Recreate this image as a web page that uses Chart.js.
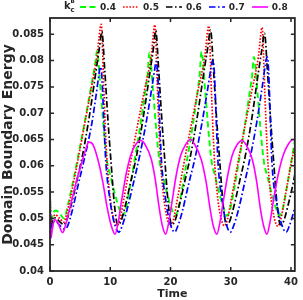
<!DOCTYPE html>
<html>
<head>
<meta charset="utf-8">
<title>Domain Boundary Energy</title>
<script src="https://cdn.jsdelivr.net/npm/chart.js@4.4.1/dist/chart.umd.min.js"></script>
<style>
  html, body { margin: 0; padding: 0; background: #fff; }
  #wrap { position: relative; width: 303px; height: 300px; font-family: "DejaVu Sans", sans-serif; font-weight: bold; color: #262626; }
  #kc { position: absolute; left: 64px; top: 0; width: 14px; height: 14px; }
  #kc span { position: absolute; line-height: 1; }
  #kc .k { left: 0; top: 1px; font-size: 10px; }
  #kc .sup { left: 6.5px; top: -0.6px; font-size: 5.5px; }
  #kc .sub { left: 6.5px; top: 7px; font-size: 7px; }
  #legend { position: absolute; left: 80px; top: 0; height: 13px; display: flex; align-items: center; font-size: 9px; }
  .item { display: flex; align-items: center; margin-right: 7px; }
  .item svg { margin-right: 4px; }
</style>
</head>
<body>
<div id="wrap">
  <canvas id="chart" width="303" height="300"></canvas>
  <div id="kc"><span class="k">k</span><span class="sup">B</span><span class="sub">c</span></div>
  <div id="legend"></div>
</div>
<script>
// k_c^B values (legend)
const kcLabels = ['0.4', '0.5', '0.6', '0.7', '0.8'];

const xTickValues = [0, 10, 20, 30, 40];
const yTickValues = [0.04, 0.045, 0.05, 0.055, 0.06, 0.065, 0.07, 0.075, 0.08, 0.085];
const yTickLabels = ['0.04', '0.045', '0.05', '0.055', '0.06', '0.065', '0.07', '0.075', '0.08', '0.085'];

// k_c^B = 0.4
const timeK04 = [0, 0.12, 0.45, 1.0, 1.7, 2.3,
  3.0, 4.0, 5.0, 6.0, 7.0, 7.5, 7.8,
  8.4, 9.0, 9.45, 10.1, 10.8, 11.5, 12.0,
  12.5, 13.2, 14.1, 14.9, 15.6, 16.2, 16.5,
  17.1, 17.7, 18.15, 18.8, 19.5, 20.2, 20.7,
  21.2, 21.9, 22.8, 23.6, 24.3, 24.85, 25.15,
  25.75, 26.35, 26.8, 27.45, 28.15, 28.85, 29.35,
  29.85, 30.55, 31.45, 32.25, 32.95, 33.55, 33.85,
  34.45, 35.05, 35.5, 36.15, 36.85, 37.55, 38.05,
  38.55, 39.25, 40.15, 40.7];
const energyK04 = [0.0558, 0.0490, 0.0508, 0.0515, 0.0508, 0.0500,
  0.0527, 0.0580, 0.0638, 0.0698, 0.0762, 0.0795, 0.0818,
  0.0743, 0.0660, 0.0610, 0.0578, 0.0545, 0.0518, 0.0505,
  0.0515, 0.0555, 0.0615, 0.0670, 0.0725, 0.0775, 0.0815,
  0.0743, 0.0660, 0.0610, 0.0578, 0.0545, 0.0518, 0.0505,
  0.0515, 0.0555, 0.0615, 0.0670, 0.0725, 0.0775, 0.0817,
  0.0743, 0.0660, 0.0610, 0.0578, 0.0545, 0.0518, 0.0505,
  0.0515, 0.0555, 0.0615, 0.0670, 0.0725, 0.0772, 0.0807,
  0.0737, 0.0655, 0.0608, 0.0577, 0.0545, 0.0518, 0.0505,
  0.0515, 0.0555, 0.0615, 0.0652];

// k_c^B = 0.5
const timeK05 = [0, 0.12, 0.45, 0.9, 1.6, 2.3,
  2.8, 3.5, 4.5, 5.6, 6.7, 7.8, 8.5,
  8.95, 9.4, 9.9, 10.45, 11.1,
  11.6, 12.3, 13.3, 14.5, 15.7, 16.8, 17.4,
  17.85, 18.3, 18.8, 19.35, 20.0,
  20.5, 21.2, 22.2, 23.4, 24.6, 25.7, 26.35,
  26.8, 27.25, 27.75, 28.3, 28.95,
  29.45, 30.15, 31.15, 32.35, 33.55, 34.6, 35.2,
  35.65, 36.1, 36.6, 37.15, 37.8,
  38.3, 39.0, 40.0, 40.7];
const energyK05 = [0.0558, 0.0486, 0.0500, 0.0507, 0.0500, 0.0493,
  0.0510, 0.0545, 0.0603, 0.0670, 0.0738, 0.0808, 0.0869,
  0.0740, 0.0620, 0.0548, 0.0505, 0.0486,
  0.0498, 0.0540, 0.0603, 0.0675, 0.0745, 0.0808, 0.0868,
  0.0740, 0.0620, 0.0548, 0.0505, 0.0486,
  0.0498, 0.0540, 0.0603, 0.0675, 0.0745, 0.0808, 0.0866,
  0.0740, 0.0620, 0.0548, 0.0505, 0.0486,
  0.0498, 0.0540, 0.0603, 0.0675, 0.0745, 0.0808, 0.0863,
  0.0740, 0.0620, 0.0548, 0.0505, 0.0485,
  0.0498, 0.0540, 0.0603, 0.0640];

// k_c^B = 0.6
const timeK06 = [0, 0.12, 0.45, 0.9, 1.6, 2.3,
  2.8, 3.5, 4.5, 5.4, 6.5, 7.6, 8.2, 8.6,
  9.1, 9.6, 10.15, 10.7, 11.25,
  11.75, 12.45, 13.45, 14.35, 15.45, 16.55, 17.15, 17.55,
  18.05, 18.55, 19.1, 19.65, 20.2,
  20.7, 21.4, 22.4, 23.3, 24.4, 25.5, 26.15, 26.65,
  27.15, 27.65, 28.2, 28.75, 29.3,
  29.8, 30.5, 31.5, 32.4, 33.5, 34.55, 35.15, 35.6,
  36.1, 36.6, 37.15, 37.7, 38.25,
  38.75, 39.45, 40.45, 40.7];
const energyK06 = [0.0558, 0.0484, 0.0496, 0.0501, 0.0494, 0.0488,
  0.0497, 0.0525, 0.0574, 0.0620, 0.0692, 0.0777, 0.0824, 0.0855,
  0.0780, 0.0690, 0.0604, 0.0525, 0.0488,
  0.0494, 0.0522, 0.0572, 0.0618, 0.0690, 0.0775, 0.0822, 0.0857,
  0.0780, 0.0690, 0.0604, 0.0525, 0.0488,
  0.0494, 0.0522, 0.0572, 0.0618, 0.0690, 0.0775, 0.0822, 0.0858,
  0.0780, 0.0690, 0.0604, 0.0525, 0.0488,
  0.0494, 0.0522, 0.0572, 0.0618, 0.0690, 0.0775, 0.0820, 0.0852,
  0.0778, 0.0690, 0.0604, 0.0525, 0.0488,
  0.0494, 0.0522, 0.0572, 0.0588];

// k_c^B = 0.7
const timeK07 = [0, 0.12, 0.45, 0.9, 1.6, 2.4,
  2.9, 3.7, 4.7, 5.8, 6.9, 7.7, 8.1, 8.35,
  8.55, 9.25, 9.95, 10.65, 11.45,
  11.95, 12.75, 13.8, 14.9, 16.0, 16.9, 17.4, 17.6,
  17.8, 18.5, 19.2, 19.9, 20.7,
  21.2, 22.0, 23.0, 24.1, 25.2, 26.2, 26.75, 27.0,
  27.2, 27.9, 28.6, 29.2, 29.95,
  30.45, 31.25, 32.25, 33.3, 34.35, 35.25, 35.75, 36.0,
  36.2, 36.85, 37.6, 38.35, 39.2,
  39.7, 40.5, 40.7];
const energyK07 = [0.0558, 0.0480, 0.0491, 0.0495, 0.0487, 0.0480,
  0.0485, 0.0515, 0.0565, 0.0618, 0.0678, 0.0738, 0.0772, 0.0788,
  0.0778, 0.0610, 0.0535, 0.0492, 0.0474,
  0.0485, 0.0515, 0.0565, 0.0620, 0.0685, 0.0748, 0.0785, 0.0798,
  0.0788, 0.0610, 0.0535, 0.0492, 0.0474,
  0.0485, 0.0515, 0.0565, 0.0616, 0.0680, 0.0748, 0.0788, 0.0801,
  0.0791, 0.0604, 0.0532, 0.0492, 0.0474,
  0.0485, 0.0515, 0.0565, 0.0620, 0.0685, 0.0752, 0.0793, 0.0807,
  0.0797, 0.0604, 0.0532, 0.0492, 0.0474,
  0.0485, 0.0515, 0.0525];

// k_c^B = 0.8
const timeK08 = [0, 0.12, 0.4, 0.75, 1.3, 2.1,
  2.6, 3.3, 4.0, 4.6, 5.3, 5.9, 6.45,
  7.15, 7.95, 8.75, 9.5, 10.15, 10.8,
  11.3, 11.9, 12.6, 13.4, 14.2, 15.1,
  15.8, 16.8, 17.5, 18.1, 18.65, 19.2,
  19.7, 20.3, 20.95, 21.7, 22.5, 23.3,
  24.0, 25.1, 25.9, 26.55, 27.1, 27.7,
  28.2, 28.8, 29.5, 30.25, 31.05, 31.85,
  32.55, 33.6, 34.3, 34.9, 35.45, 36.0,
  36.5, 37.1, 37.85, 38.7, 39.55, 40.4, 40.7];
const energyK08 = [0.0558, 0.0462, 0.0480, 0.0498, 0.0492, 0.0473,
  0.0488, 0.0520, 0.0553, 0.0580, 0.0607, 0.0630, 0.0645,
  0.0640, 0.0612, 0.0570, 0.0520, 0.0487, 0.0470,
  0.0492, 0.0535, 0.0582, 0.0620, 0.0640, 0.0648,
  0.0640, 0.0613, 0.0572, 0.0522, 0.0486, 0.0470,
  0.0492, 0.0535, 0.0582, 0.0620, 0.0640, 0.0650,
  0.0641, 0.0612, 0.0570, 0.0520, 0.0486, 0.0470,
  0.0492, 0.0535, 0.0582, 0.0620, 0.0640, 0.0648,
  0.0640, 0.0611, 0.0570, 0.0520, 0.0486, 0.0470,
  0.0492, 0.0535, 0.0582, 0.0620, 0.0641, 0.0650, 0.0649];

const seriesTimes = [timeK04, timeK05, timeK06, timeK07, timeK08];
const seriesEnergies = [energyK04, energyK05, energyK06, energyK07, energyK08];

// line styles (green dashed, red dotted, black/blue dash-dot, magenta solid)
const lineColors = ['#00ff00', '#ff0000', '#000000', '#0000ff', '#ff00ff'];
const lineDashes = [[6, 3.5], [1.6, 1.6], [6.5, 2.5, 1.6, 2.5], [6.5, 2.5, 1.6, 2.5], []];
const lineWidths = [1.9, 1.7, 1.7, 1.7, 1.6];

const axisColor = '#262626';
const tickFont = { family: 'DejaVu Sans', size: 10, weight: 'bold' };

// MATLAB style box with inward ticks
const axesBox = {
  id: 'axesBox',
  afterDraw(chart) {
    const { ctx, chartArea: a, scales: { x, y } } = chart;
    ctx.save();
    ctx.strokeStyle = axisColor;
    ctx.lineWidth = 1.5;
    ctx.beginPath();
    xTickValues.forEach(v => {
      const px = x.getPixelForValue(v);
      ctx.moveTo(px, a.bottom); ctx.lineTo(px, a.bottom - 4);
      ctx.moveTo(px, a.top); ctx.lineTo(px, a.top + 4);
    });
    yTickValues.forEach(v => {
      const py = y.getPixelForValue(v);
      ctx.moveTo(a.left, py); ctx.lineTo(a.left + 4, py);
      ctx.moveTo(a.right, py); ctx.lineTo(a.right - 4, py);
    });
    ctx.stroke();
    ctx.lineWidth = 1.8;
    ctx.strokeRect(a.left, a.top, a.right - a.left, a.bottom - a.top);
    ctx.restore();
  }
};

const datasets = kcLabels.map((label, i) => ({
  label: label,
  data: seriesTimes[i].map((t, j) => ({ x: t, y: seriesEnergies[i][j] })),
  borderColor: lineColors[i],
  borderDash: lineDashes[i],
  borderWidth: lineWidths[i],
  pointRadius: 0,
  fill: false,
  cubicInterpolationMode: 'monotone',
  order: kcLabels.length - i   // later curves on top
}));

new Chart(document.getElementById('chart'), {
  type: 'line',
  data: { datasets: datasets },
  options: {
    responsive: false,
    animation: false,
    layout: { padding: { top: 18, right: 3, left: 0, bottom: 0 } },
    plugins: { legend: { display: false }, tooltip: { enabled: false } },
    scales: {
      x: {
        type: 'linear',
        min: 0,
        max: 40.64,
        grid: { display: false, drawTicks: false },
        border: { display: false },
        afterBuildTicks: s => { s.ticks = xTickValues.map(v => ({ value: v })); },
        afterFit: s => { s.height = 29; },
        ticks: { font: tickFont, color: axisColor, padding: 5, maxRotation: 0, autoSkip: false,
          callback: v => String(v) },
        title: { display: true, text: 'Time', color: axisColor, padding: 0,
          font: { family: 'DejaVu Sans', size: 11, weight: 'bold', lineHeight: 1 } }
      },
      y: {
        type: 'linear',
        min: 0.04,
        max: 0.0881,
        grid: { display: false, drawTicks: false },
        border: { display: false },
        afterBuildTicks: s => { s.ticks = yTickValues.map(v => ({ value: v })); },
        afterFit: s => { s.width = 50; },
        ticks: { font: tickFont, color: axisColor, padding: 6, autoSkip: false,
          callback: (v, i) => yTickLabels[i] },
        title: { display: true, text: 'Domain Boundary Energy', color: axisColor, padding: 0,
          font: { family: 'DejaVu Sans', size: 14, weight: 'bold', lineHeight: 1.2 } }
      }
    }
  },
  plugins: [axesBox]
});

// legend built from the same series styles
const legend = document.getElementById('legend');
kcLabels.forEach((label, i) => {
  const item = document.createElement('span');
  item.className = 'item';
  const dash = lineDashes[i].length ? ' stroke-dasharray="' + lineDashes[i].join(' ') + '"' : '';
  item.innerHTML = '<svg width="16" height="4"><line x1="0" y1="2" x2="16" y2="2" stroke="' +
    lineColors[i] + '" stroke-width="' + lineWidths[i] + '"' + dash + '/></svg><span>' + label + '</span>';
  legend.appendChild(item);
});
</script>
</body>
</html>
